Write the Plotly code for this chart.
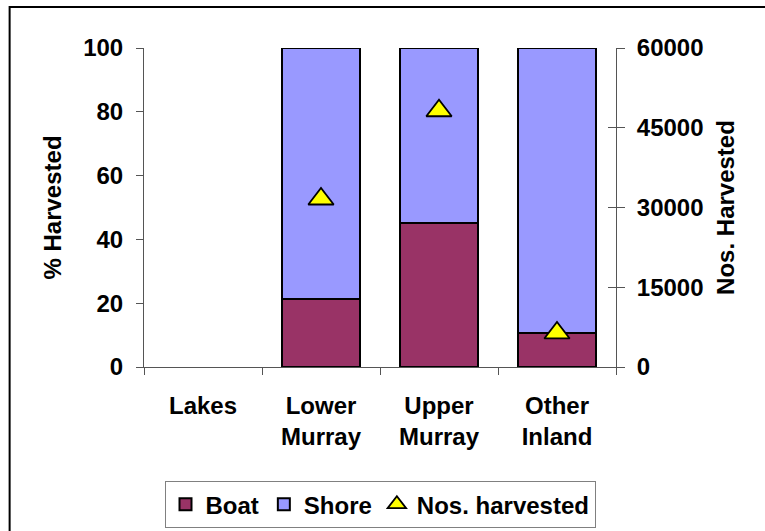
import plotly.graph_objects as go

categories = ["Lakes", "Lower<br>Murray", "Upper<br>Murray", "Other<br>Inland"]
boat_pct = [None, 21.3, 45.2, 10.8]
shore_pct = [None, 78.7, 54.8, 89.2]
nos_harvested = [None, 31600, 48200, 6400]
pct_ticks = [0, 20, 40, 60, 80, 100]
nos_ticks = [0, 15000, 30000, 45000, 60000]

FONT = dict(family="Liberation Sans, Arial, sans-serif", size=24, color="black")


def bold(s):
    return f"<b>{s}</b>"


fig = go.Figure()
fig.add_trace(go.Bar(x=categories, y=boat_pct, name=bold("Boat"),
                     marker=dict(color="#993366", line=dict(color="black", width=2))))
fig.add_trace(go.Bar(x=categories, y=shore_pct, name=bold("Shore"),
                     marker=dict(color="#9999FF", line=dict(color="black", width=2))))
fig.add_trace(go.Scatter(x=categories, y=nos_harvested, name=bold("Nos. harvested"),
                         mode="markers", yaxis="y2",
                         marker=dict(symbol="triangle-up", size=22, color="#FFFF00",
                                     line=dict(color="black", width=1.8))))
# invisible trace to activate the inner right-hand ticks
fig.add_trace(go.Scatter(x=[categories[0]], y=[None], yaxis="y3", showlegend=False,
                         hoverinfo="skip"))

fig.update_layout(
    width=765, height=531,
    margin=dict(l=143.5, r=149, t=48, b=164, autoexpand=False),
    paper_bgcolor="white", plot_bgcolor="white",
    barmode="stack", bargap=0.34,
    font=FONT,
    showlegend=True,
    legend=dict(orientation="h", x=0.5, xanchor="center",
                yref="container", y=0.094, yanchor="top",
                traceorder="normal",
                bordercolor="#808080", borderwidth=1, font=FONT,
                itemwidth=30, tracegroupgap=0),
    xaxis=dict(tickson="boundaries", ticks="outside", ticklen=7, tickcolor="#555",
               showline=True, linecolor="#555", linewidth=1, showgrid=False,
               tickfont=dict(FONT), ticklabelstandoff=17,
               tickvals=categories, ticktext=[bold(c) for c in categories]),
    yaxis=dict(range=[0, 100], ticks="outside", ticklen=7, tickcolor="#555",
               showline=True, linecolor="#555", linewidth=1, showgrid=False, zeroline=False,
               tickfont=dict(FONT), ticklabelstandoff=8,
               tickvals=pct_ticks, ticktext=[bold(v) for v in pct_ticks],
               title=dict(text=bold("% Harvested"), font=dict(FONT), standoff=14)),
    yaxis2=dict(range=[0, 60000], overlaying="y", side="right", ticks="outside", ticklen=8,
                tickcolor="#555", showline=True, linecolor="#555", linewidth=1,
                showgrid=False, zeroline=False, tickfont=dict(FONT), ticklabelstandoff=7,
                tickvals=nos_ticks, ticktext=[bold(v) for v in nos_ticks],
                title=dict(text=bold("Nos. Harvested"), font=dict(FONT), standoff=14)),
    yaxis3=dict(range=[0, 60000], overlaying="y", side="right", ticks="inside", ticklen=8,
                tickcolor="#555", showline=False, showgrid=False, zeroline=False,
                showticklabels=False, tickvals=nos_ticks),
    shapes=[dict(type="rect", xref="paper", yref="paper",
                 x0=-0.2847, y0=1.1285, x1=1.33, y1=-0.56,
                 line=dict(color="black", width=2), fillcolor="rgba(0,0,0,0)", layer="below")],
)

fig.write_html("out.html", config={"displayModeBar": False},
               post_script="document.body.style.margin='0';")
